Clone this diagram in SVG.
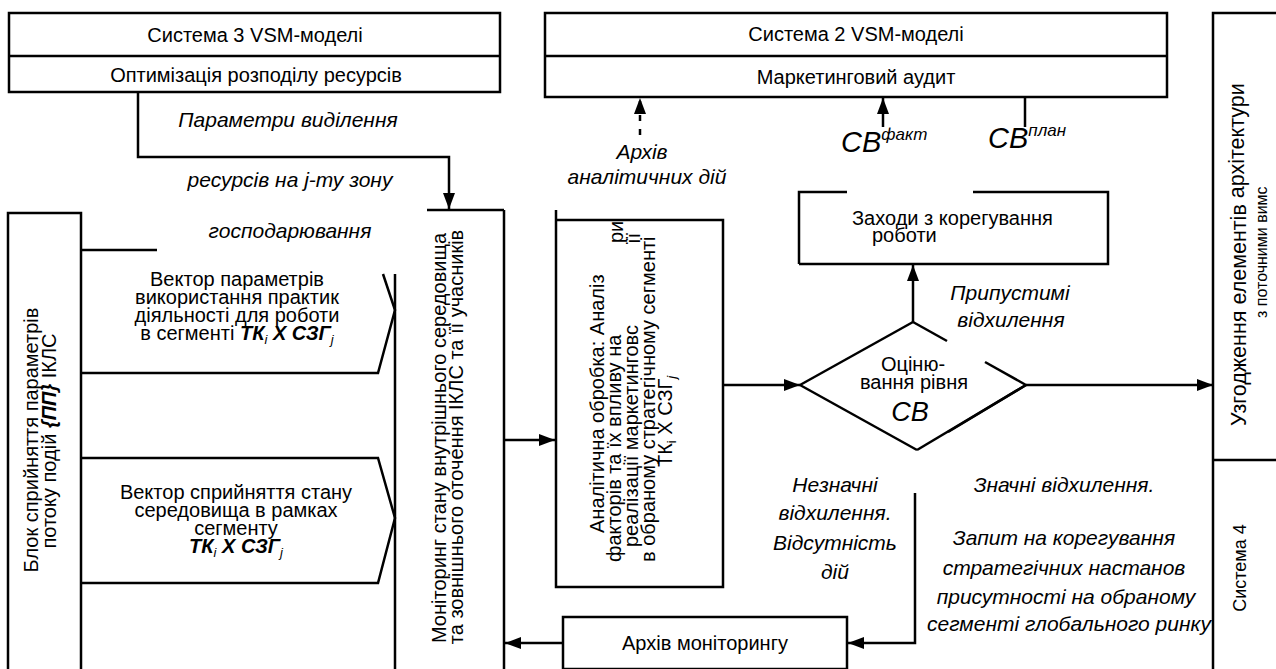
<svg xmlns="http://www.w3.org/2000/svg" width="1276" height="669" viewBox="0 0 1276 669">
<defs>
<style>
.ln{stroke:#000;stroke-width:2.5;fill:none}
.bx{stroke:#000;stroke-width:2.5;fill:#fff}
.t{font-family:"Liberation Sans",Arial,sans-serif;font-size:20px;fill:#000}
.i{font-style:italic;font-size:21px}
.m{text-anchor:middle}
.b{font-weight:bold}
</style>
<marker id="ah" viewBox="0 0 16 12" refX="16" refY="6" markerWidth="16" markerHeight="12" markerUnits="userSpaceOnUse" orient="auto"><path d="M0,0 L16,6 L0,12 z" fill="#000"/></marker>
</defs>
<rect width="1276" height="669" fill="#fff"/>

<g id="connectors">
<polyline class="ln" points="138,92 138,157 449,157 449,209" marker-end="url(#ah)"/>
<line class="ln" x1="504" y1="440" x2="555" y2="440" marker-end="url(#ah)"/>
<line class="ln" x1="723" y1="385" x2="800" y2="385" marker-end="url(#ah)"/>
<line class="ln" x1="913" y1="322" x2="913" y2="265" marker-end="url(#ah)"/>
<line class="ln" x1="1026" y1="385" x2="1213" y2="385" marker-end="url(#ah)"/>
<polyline class="ln" points="915,493 915,643 848,643" marker-end="url(#ah)"/>
<line class="ln" x1="563" y1="643" x2="505" y2="643" marker-end="url(#ah)"/>
<line class="ln" x1="640" y1="135" x2="640" y2="98" stroke-dasharray="6,8" marker-end="url(#ah)"/>
<line class="ln" x1="883" y1="127" x2="883" y2="98" marker-end="url(#ah)"/>
<line class="ln" x1="1025" y1="97" x2="1025" y2="127"/>
<line class="ln" x1="81" y1="250" x2="157" y2="250"/>
</g>

<g id="sys3">
<rect class="bx" x="9" y="13" width="491" height="79"/>
<line class="ln" x1="9" y1="56" x2="500" y2="56"/>
<text class="t m" x="255" y="42">Система 3 VSM-моделі</text>
<text class="t m" x="256" y="82">Оптимізація розподілу ресурсів</text>
</g>

<g id="sys2">
<rect class="bx" x="545" y="13" width="622" height="84"/>
<line class="ln" x1="545" y1="56" x2="1167" y2="56"/>
<text class="t m" x="856" y="41">Система 2 VSM-моделі</text>
<text class="t m" x="856" y="84">Маркетинговий аудит</text>
</g>

<g id="labels-top">
<text class="t i m" x="288" y="127">Параметри виділення</text>
<text class="t i m" x="290" y="187">ресурсів на j-ту зону</text>
<text class="t i m" x="290" y="238">господарювання</text>
<text class="t i m" x="642" y="159">Архів</text>
<text class="t i m" x="647" y="184">аналітичних дій</text>
<text class="t i" x="841" y="152" style="font-size:29px">СВ<tspan style="font-size:17px" dy="-12">факт</tspan></text>
<text class="t i" x="988" y="148" style="font-size:29px">СВ<tspan style="font-size:17px" dy="-12">план</tspan></text>
</g>

<g id="block">
<rect class="bx" x="8" y="213" width="73" height="460"/>
<text class="t m" transform="translate(38,440) rotate(-90)">Блок сприйняття параметрів</text>
<text class="t m" transform="translate(56,441) rotate(-90)">потоку подій <tspan class="b" font-style="italic">{ПП}</tspan> ІКЛС</text>
</g>

<g id="vector1">
<polyline class="ln" points="383,274 395,310 378,373 81,373"/>
<text class="t m" x="237" y="286">Вектор параметрів</text>
<text class="t m" x="237" y="304">використання практик</text>
<text class="t m" x="237" y="322">діяльності для роботи</text>
<text class="t m" x="237" y="340">в сегменті <tspan class="b" font-style="italic">ТК</tspan><tspan font-style="italic" font-size="13" dy="4">i</tspan><tspan class="b" font-style="italic" dy="-4"> Х СЗГ</tspan><tspan font-style="italic" font-size="13" dy="4">j</tspan></text>
</g>

<g id="vector2">
<polyline class="ln" points="81,458 378,458 395,518 378,583 81,583"/>
<text class="t m" x="236" y="499">Вектор сприйняття стану</text>
<text class="t m" x="236" y="517">середовища в рамках</text>
<text class="t m" x="236" y="535">сегменту</text>
<text class="t m" x="236" y="553"><tspan class="b" font-style="italic">ТК</tspan><tspan font-style="italic" font-size="13" dy="4">i</tspan><tspan class="b" font-style="italic" dy="-4"> Х СЗГ</tspan><tspan font-style="italic" font-size="13" dy="4">j</tspan></text>
</g>

<g id="monitoring">
<line class="ln" x1="427" y1="210" x2="504" y2="210"/>
<line class="ln" x1="504" y1="210" x2="504" y2="672"/>
<line class="ln" x1="395" y1="274" x2="395" y2="672"/>
<text class="t m" transform="translate(446,438) rotate(-90)">Моніторинг стану внутрішнього середовища</text>
<text class="t m" transform="translate(463,437) rotate(-90)">та зовнішнього оточення ІКЛС та її учасників</text>
</g>

<g id="analysis">
<polyline class="ln" points="556,210 556,587 723,587 723,220 556,220"/>
<text class="t" transform="translate(604,533) rotate(-90)">Аналітична обробка:  Аналіз</text>
<text class="t" transform="translate(621,562) rotate(-90)">факторів та їх впливу на</text>
<text class="t" transform="translate(623,243) rotate(-90)">ри</text>
<text class="t" transform="translate(638,547) rotate(-90)">реалізації маркетинговс</text>
<text class="t" transform="translate(640,244) rotate(-90)">її</text>
<text class="t" transform="translate(655,562) rotate(-90)">в обраному стратегічному сегменті</text>
<text class="t" transform="translate(672,467) rotate(-90)">ТК<tspan font-size="13" dy="4">i</tspan><tspan dy="-4"> Х СЗГ</tspan><tspan font-style="italic" font-size="13" dy="4">j</tspan></text>
</g>

<g id="measures">
<polyline class="ln" points="799,264 799,192 847,192"/>
<polyline class="ln" points="973,192 1108,192 1108,264 799,264"/>
<text class="t" x="852" y="225">Заходи з   корегування</text>
<text class="t" x="872" y="242">роботи</text>
</g>

<g id="decision">
<line class="ln" x1="800" y1="385" x2="913" y2="322"/>
<line class="ln" x1="913" y1="322" x2="947" y2="341"/>
<line class="ln" x1="985" y1="362" x2="1026" y2="385"/>
<line class="ln" x1="800" y1="385" x2="917" y2="450" stroke-width="4"/>
<line class="ln" x1="917" y1="450" x2="1026" y2="385"/>
<line class="ln" x1="948" y1="432" x2="1026" y2="385" stroke-width="4"/>
<text class="t m" x="913" y="371">Оціню-</text>
<text class="t m" x="914" y="389">вання рівня</text>
<text class="t i m" x="910" y="421" style="font-size:27px">СВ</text>
</g>

<g id="labels-right">
<text class="t i m" x="1010" y="300">Припустимі</text>
<text class="t i m" x="1011" y="327">відхилення</text>
<text class="t i m" x="835" y="492">Незначні</text>
<text class="t i m" x="835" y="520">відхилення.</text>
<text class="t i m" x="835" y="550">Відсутність</text>
<text class="t i m" x="835" y="579">дій</text>
<text class="t i m" x="1064" y="492">Значні відхилення.</text>
<text class="t i m" x="1064" y="545">Запит на корегування</text>
<text class="t i m" x="1064" y="575">стратегічних настанов</text>
<text class="t i m" x="1066" y="604">присутності на обраному</text>
<text class="t i m" x="1069" y="631">сегменті глобального ринку</text>
</g>

<g id="archive">
<rect class="bx" x="563" y="617" width="284" height="52"/>
<text class="t m" x="705" y="650">Архів моніторингу</text>
</g>

<g id="system4">
<rect class="bx" x="1213" y="13" width="70" height="660"/>
<line class="ln" x1="1213" y1="460" x2="1280" y2="460"/>
<text class="t" style="font-size:21.5px" transform="translate(1246,426) rotate(-90)">Узгодження елементів <tspan dy="-2">архітектури</tspan></text>
<text class="t" style="font-size:16px" transform="translate(1267,318) rotate(-90)">з поточними вимс</text>
<text class="t m" style="font-size:18px" transform="translate(1246,568) rotate(-90)">Система 4</text>
</g>
</svg>
